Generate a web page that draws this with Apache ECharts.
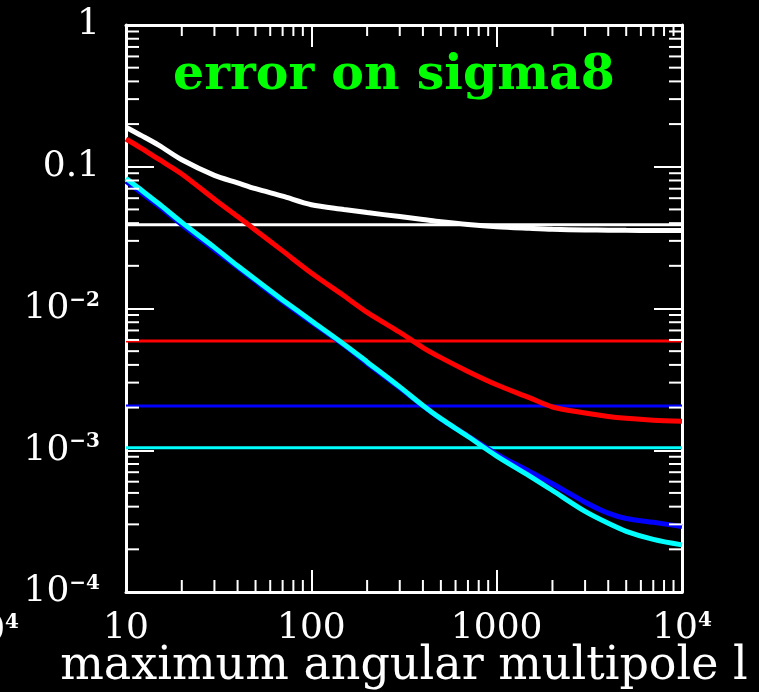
<!DOCTYPE html>
<html><head><meta charset="utf-8">
<script src="https://cdn.jsdelivr.net/npm/echarts@6/dist/echarts.min.js"></script>
<style>html,body{margin:0;padding:0;background:#000}#c{width:759px;height:692px}</style>
</head><body><div id="c"></div>
<script>
// multipole l values
const ells = [10,12,15,20,30,40,50,70,100,150,200,300,400,500,700,1000,1500,2000,3000,4000,5000,7000,10000];
// error curves
const whiteErr = [0.19,0.167,0.142,0.112,0.087,0.077,0.070,0.062,0.054,0.0500,0.0475,0.0445,0.0425,0.041,0.0392,0.0378,0.0368,0.0362,0.0358,0.0357,0.0356,0.0355,0.0355];
const redErr   = [0.157,0.136,0.113,0.089,0.059,0.0445,0.0357,0.0255,0.0178,0.0123,0.0094,0.0068,0.0053,0.0045,0.0036,0.0029,0.00235,0.00202,0.00183,0.00173,0.00168,0.00163,0.0016];
const blueErr  = [0.079,0.066,0.053,0.039,0.026,0.0195,0.0156,0.0112,0.0080,0.0055,0.0041,0.00275,0.00205,0.00166,0.00126,0.00094,0.00071,0.00058,0.00043,0.00036,0.00033,0.00031,0.00029];
const cyanErr  = [0.083,0.069,0.055,0.0405,0.027,0.020,0.016,0.0115,0.0082,0.0056,0.0042,0.0028,0.00207,0.00167,0.00125,0.00091,0.00066,0.00052,0.00037,0.000305,0.000268,0.000235,0.000215];
// horizontal reference levels (white, red, blue, cyan)
const floorLevels = [0.039, 0.0059, 0.00205, 0.00104];
const curveColors = ['#ffffff','#ff0000','#0000ff','#00ffff'];
// tick labels
const xTickLabels = {1:'10', 2:'100', 3:'1000', 4:'{b|10}{s|4}'};
const yTickLabels = {0:'1', '-1':'0.1', '-2':'{b|10}{s|−2}', '-3':'{b|10}{s|−3}', '-4':'{b|10}{s|−4}'};
const xMinorTicks = [20,30,40,50,60,70,80,90,200,300,400,500,600,700,800,900,2000,3000,4000,5000,6000,7000,8000,9000];
const yMinorTicks = [];
[1e-4,1e-3,1e-2,1e-1].forEach(d => { for (let k = 2; k <= 9; k++) yMinorTicks.push(+(d*k).toPrecision(3)); });

const xRange = [10, 10000];
const yRange = [1e-4, 1];

const richLbl = {
  b: {fontFamily:'DejaVu Serif', fontSize:36, color:'#fff'},
  s: {fontFamily:'DejaVu Serif', fontSize:20, fontWeight:'bold', color:'#fff', verticalAlign:'top'}
};

const chart = echarts.init(document.getElementById('c'), null, {renderer:'canvas'});

const curves = [whiteErr, redErr, blueErr, cyanErr];
const series = [];
floorLevels.forEach((lv, i) => {
  series.push({type:'line', data:[[xRange[0], lv],[xRange[1], lv]], showSymbol:false, symbol:'none',
    lineStyle:{color:curveColors[i], width:3}, silent:true, z:2});
});
curves.forEach((arr, i) => {
  series.push({type:'line', data: ells.map((l, j) => [l, arr[j]]), showSymbol:false, symbol:'none', smooth:0.3,
    lineStyle:{color:curveColors[i], width:5}, silent:true, z:3 + i});
});
series.push({
  type:'custom', coordinateSystem:'cartesian2d', xAxisIndex:0, yAxisIndex:0, clip:false, silent:true, z:10,
  data: xMinorTicks.map(v => [v, yRange[0], 0]).concat(yMinorTicks.map(v => [xRange[0], v, 1])),
  renderItem: (params, api) => {
    const kind = api.value(2);
    const st = {stroke:'#fff', lineWidth:2};
    if (kind === 0) {
      const b = api.coord([api.value(0), yRange[0]]);
      const t = api.coord([api.value(0), yRange[1]]);
      return {type:'group', children:[
        {type:'line', shape:{x1:b[0], y1:b[1], x2:b[0], y2:b[1]-12}, style:st},
        {type:'line', shape:{x1:t[0], y1:t[1], x2:t[0], y2:t[1]+11}, style:st}
      ]};
    } else {
      const l = api.coord([xRange[0], api.value(1)]);
      const r = api.coord([xRange[1], api.value(1)]);
      return {type:'group', children:[
        {type:'line', shape:{x1:l[0], y1:l[1], x2:l[0]+13, y2:l[1]}, style:st},
        {type:'line', shape:{x1:r[0], y1:r[1], x2:r[0]-13, y2:r[1]}, style:st}
      ]};
    }
  }
});

const axisLineStyle = {show:true, lineStyle:{color:'#fff', width:3}};
chart.setOption({
  backgroundColor:'#000',
  animation:false,
  title:{text:'error on sigma8', left:168, top:47,
    textStyle:{color:'#00ff00', fontFamily:'DejaVu Serif', fontWeight:'bold', fontSize:49}},
  grid:{left:126, right:77, top:25, bottom:100, containLabel:false, outerBoundsMode:'none'},
  xAxis:[
    {type:'log', logBase:10, min:xRange[0], max:xRange[1], position:'bottom',
     axisLine:axisLineStyle, splitLine:{show:false},
     axisTick:{show:true, inside:true, length:22, lineStyle:{color:'#fff', width:2}},
     axisLabel:{show:true, margin:19, showMinLabel:true, showMaxLabel:true, hideOverlap:false,
       color:'#fff', fontFamily:'DejaVu Serif', fontSize:36, rich:richLbl,
       formatter: v => xTickLabels[Math.round(Math.log10(v))] || ''},
     name:'maximum angular multipole l', nameLocation:'middle', nameGap:52, nameMoveOverlap:false,
     nameTextStyle:{color:'#fff', fontFamily:'DejaVu Serif', fontSize:46}},
    {type:'log', logBase:10, min:xRange[0], max:xRange[1], position:'top',
     axisLine:axisLineStyle, splitLine:{show:false},
     axisTick:{show:true, inside:true, length:22, lineStyle:{color:'#fff', width:2}},
     axisLabel:{show:false}}
  ],
  yAxis:[
    {type:'log', logBase:10, min:yRange[0], max:yRange[1], position:'left',
     axisLine:axisLineStyle, splitLine:{show:false},
     axisTick:{show:true, inside:true, length:28, lineStyle:{color:'#fff', width:2}},
     axisLabel:{show:true, margin:26, showMinLabel:true, showMaxLabel:true, hideOverlap:false,
       color:'#fff', fontFamily:'DejaVu Serif', fontSize:36, rich:richLbl,
       formatter: v => yTickLabels[String(Math.round(Math.log10(v)))] || ''}},
    {type:'log', logBase:10, min:yRange[0], max:yRange[1], position:'right',
     axisLine:axisLineStyle, splitLine:{show:false},
     axisTick:{show:true, inside:true, length:28, lineStyle:{color:'#fff', width:2}},
     axisLabel:{show:false}}
  ],
  graphic:[
    {type:'text', x:19, y:613, silent:true,
     style:{text:'{b|10}{s|4}', align:'right', verticalAlign:'top', fill:'#fff',
       font:'36px "DejaVu Serif"',
       rich:{b:{fontFamily:'DejaVu Serif', fontSize:36, fill:'#fff'},
             s:{fontFamily:'DejaVu Serif', fontSize:20, fontWeight:'bold', fill:'#fff', verticalAlign:'top'}}}}
  ],
  series: series
});
</script></body></html>
